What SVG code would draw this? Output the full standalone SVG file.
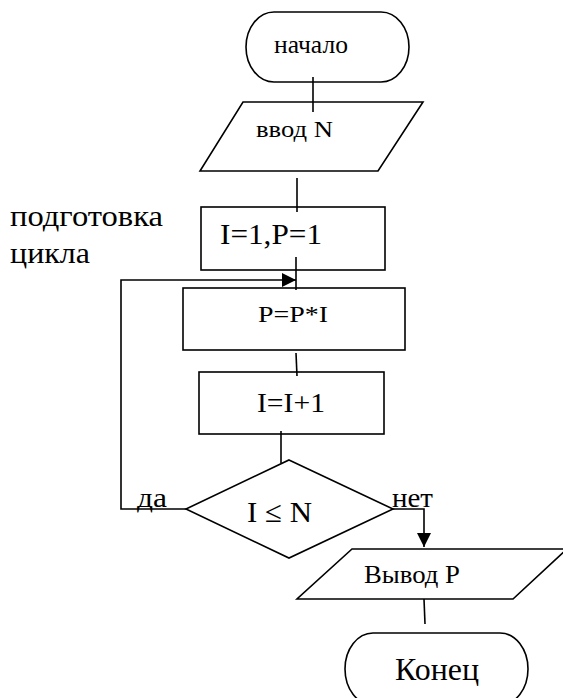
<svg xmlns="http://www.w3.org/2000/svg" width="563" height="698" viewBox="0 0 563 698">
<style>
.s{fill:#fff;stroke:#000;stroke-width:1.6}
.c{fill:none;stroke:#000;stroke-width:1.6}
text{font-family:"Liberation Serif","Times New Roman",serif;fill:#000}
</style>
<defs>
<marker id="ah" markerUnits="userSpaceOnUse" markerWidth="16" markerHeight="16" refX="14" refY="7" orient="auto">
<path d="M0,0 L14,7 L0,14 z" fill="#000"/>
</marker>
</defs>
<rect width="563" height="698" fill="#fff"/>
<g id="start">
<rect class="s" x="246" y="12" width="163" height="70" rx="28" ry="35"/>
<text x="274" y="53" font-size="25" textLength="74" lengthAdjust="spacingAndGlyphs">начало</text>
</g>
<g id="input">
<polygon class="s" points="243,102 423,102 378,171 200,171"/>
<text x="256" y="137" font-size="23" textLength="77" lengthAdjust="spacingAndGlyphs">ввод N</text>
</g>
<g id="prep-label">
<text x="10" y="226" font-size="29" textLength="153" lengthAdjust="spacingAndGlyphs">подготовка</text>
<text x="10" y="263" font-size="29" textLength="80" lengthAdjust="spacingAndGlyphs">цикла</text>
</g>
<g id="init">
<rect class="s" x="201" y="207" width="184" height="63"/>
<text x="220" y="244" font-size="29" textLength="102" lengthAdjust="spacingAndGlyphs">I=1,P=1</text>
</g>
<g id="mult">
<rect class="s" x="183" y="288" width="222" height="62"/>
<text x="258" y="322" font-size="24" textLength="70" lengthAdjust="spacingAndGlyphs">P=P*I</text>
</g>
<g id="inc">
<rect class="s" x="199" y="372" width="185" height="62"/>
<text x="257" y="412" font-size="28" textLength="68" lengthAdjust="spacingAndGlyphs">I=I+1</text>
</g>
<g id="cond">
<polygon class="s" points="289,460 393,509 289,558 186,509"/>
<text x="247" y="522" font-size="30" textLength="65" lengthAdjust="spacingAndGlyphs">I ≤ N</text>
</g>
<g id="output">
<polygon class="s" points="352,549 567,549 513,599 297,599"/>
<text x="364" y="583" font-size="26" textLength="96" lengthAdjust="spacingAndGlyphs">Вывод P</text>
</g>
<g id="end">
<rect class="s" x="345" y="633" width="183" height="72" rx="28" ry="36"/>
<text x="395" y="680" font-size="31" textLength="84" lengthAdjust="spacingAndGlyphs">Конец</text>
</g>
<g id="connectors">
<line class="c" x1="313" y1="77" x2="313" y2="112"/>
<line class="c" x1="297" y1="178" x2="297" y2="212"/>
<line class="c" x1="296" y1="257" x2="296" y2="290"/>
<line class="c" x1="296" y1="353" x2="297" y2="376"/>
<line class="c" x1="281" y1="431" x2="281" y2="463"/>
<polyline class="c" points="186,509 121,509 121,280 296,280" marker-end="url(#ah)"/>
<polyline class="c" points="393,509 424,509 424,547" marker-end="url(#ah)"/>
<line class="c" x1="424" y1="599" x2="425" y2="624"/>
<text x="137" y="507" font-size="28" textLength="30" lengthAdjust="spacingAndGlyphs">да</text>
<text x="392" y="507" font-size="28" textLength="41" lengthAdjust="spacingAndGlyphs">нет</text>
</g>
</svg>
